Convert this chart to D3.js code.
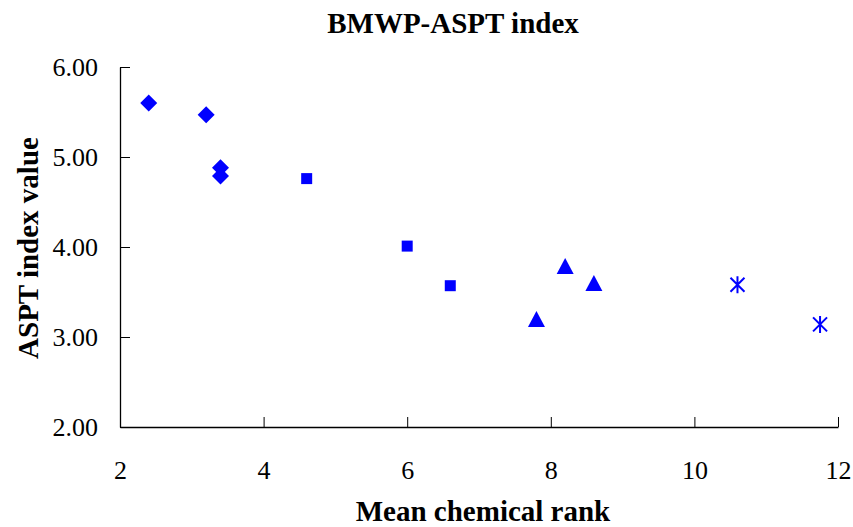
<!DOCTYPE html>
<html>
<head>
<meta charset="utf-8">
<script src="https://cdn.jsdelivr.net/npm/d3@7"></script>
<style>
  html, body { margin: 0; padding: 0; background: #fff; }
  svg { display: block; font-family: "Liberation Serif", "Times New Roman", serif; }
</style>
</head>
<body>
<svg id="chart" width="853" height="527"></svg>
<script>
// ---- data ----
const diamondX = [2.4, 3.2, 3.4, 3.4];
const diamondY = [5.6, 5.47, 4.88, 4.79];
const squareX = [4.6, 6.0, 6.6];
const squareY = [4.76, 4.01, 3.57];
const triangleX = [7.8, 8.2, 8.6];
const triangleY = [3.2, 3.79, 3.6];
const starX = [10.6, 11.75];
const starY = [3.58, 3.14];
const xTicks = [2, 4, 6, 8, 10, 12];
const yTicks = [2, 3, 4, 5, 6];
const titleText = "BMWP-ASPT index";
const xTitle = "Mean chemical rank";
const yTitle = "ASPT index value";

// ---- layout ----
const svg = d3.select("#chart");
const mLeft = 120, mRight = 838, mTop = 67, mBottom = 427;
const x = d3.scaleLinear().domain([2, 12]).range([mLeft, mRight]);
const y = d3.scaleLinear().domain([2, 6]).range([mBottom, mTop]);
const blue = "#0000ff";

// axes
const yAxis = d3.axisLeft(y).tickValues(yTicks).tickFormat(d3.format(".2f"))
  .tickSizeInner(-10).tickSizeOuter(0).tickPadding(22);
const xAxis = d3.axisBottom(x).tickValues(xTicks).tickFormat(d3.format("d"))
  .tickSizeInner(-10).tickSizeOuter(0).tickPadding(34);

const gy = svg.append("g").attr("transform", `translate(${mLeft},0)`).call(yAxis);
const gx = svg.append("g").attr("transform", `translate(0,${mBottom})`).call(xAxis);
[gx, gy].forEach(g => {
  g.select(".domain").attr("stroke", "#000").attr("stroke-width", 1.3);
  g.selectAll(".tick line").attr("stroke", "#000").attr("stroke-width", 1);
  g.selectAll(".tick text").attr("fill", "#000")
    .style("font-family", '"Liberation Serif", "Times New Roman", serif')
    .style("font-size", "26px");
});

// titles
svg.append("text").attr("x", 453).attr("y", 33).attr("text-anchor", "middle")
  .style("font-size", "29px").style("font-weight", "bold").text(titleText);
svg.append("text").attr("x", 483).attr("y", 521).attr("text-anchor", "middle")
  .style("font-size", "29px").style("font-weight", "bold").text(xTitle);
svg.append("text").attr("transform", "translate(38,248) rotate(-90)").attr("text-anchor", "middle")
  .style("font-size", "29px").style("font-weight", "bold").text(yTitle);

// markers
const plot = svg.append("g");
const zip = (xs, ys) => xs.map((v, i) => ({ x: v, y: ys[i] }));

// diamonds
plot.selectAll(".dia").data(zip(diamondX, diamondY)).enter().append("path")
  .attr("transform", d => `translate(${x(d.x)},${y(d.y)})`)
  .attr("d", "M0,-8.5L8.5,0L0,8.5L-8.5,0Z").attr("fill", blue);

// squares
plot.selectAll(".sq").data(zip(squareX, squareY)).enter().append("path")
  .attr("transform", d => `translate(${x(d.x)},${y(d.y)})`)
  .attr("d", "M-5.5,-5.5H5.5V5.5H-5.5Z").attr("fill", blue);

// triangles (bbox centered)
plot.selectAll(".tri").data(zip(triangleX, triangleY)).enter().append("path")
  .attr("transform", d => `translate(${x(d.x)},${y(d.y)})`)
  .attr("d", "M0,-8L8.5,8L-8.5,8Z").attr("fill", blue);

// asterisks
plot.selectAll(".star").data(zip(starX, starY)).enter().append("path")
  .attr("transform", d => `translate(${x(d.x)},${y(d.y)})`)
  .attr("d", "M0,-8.5V8.5M-7,-7L7,7M-7,7L7,-7")
  .attr("stroke", blue).attr("stroke-width", 2).attr("fill", "none");
</script>
</body>
</html>
